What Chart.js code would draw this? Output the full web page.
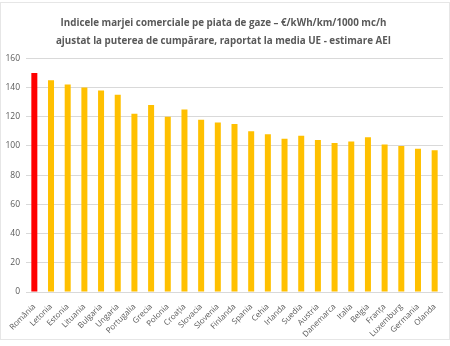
<!DOCTYPE html>
<html><head><meta charset="utf-8">
<script src="https://cdn.jsdelivr.net/npm/chart.js@4/dist/chart.umd.min.js"></script>
<style>html,body{margin:0;padding:0;background:#fff}#wrap{width:450px;height:346px;position:relative}</style>
</head><body><div id="wrap"><canvas id="c" width="450" height="346"></canvas></div>
<script>
const categories = ["România","Letonia","Estonia","Lituania","Bulgaria","Ungaria","Portugalia","Grecia","Polonia","Croația","Slovacia","Slovenia","Finlanda","Spania","Cehia","Irlanda","Suedia","Austria","Danemarca","Italia","Belgia","Franța","Luxemburg","Germania","Olanda"];
const values = [150,145,142,140,138,135,122,128,120,125,118,116,115,110,108,105,107,104,102,103,106,101,100,98,97];
const barColors = values.map((v,i)=> i===0 ? "#FF0000" : "#FFC000");
const titleLines = ["Indicele marjei comerciale pe piata de gaze – €/kWh/km/1000 mc/h","ajustat la puterea de cumpărare, raportat la media UE - estimare AEI"];

const borderPlugin = {id:'border', beforeDraw(chart){const c=chart.ctx;c.save();c.fillStyle='#fff';c.fillRect(0,0,450,346);c.strokeStyle='#e6e6e6';c.lineWidth=1;c.strokeRect(0.5,2.5,449,337);c.restore();}};

new Chart(document.getElementById('c'), {
  type:'bar',
  data:{labels:categories, datasets:[{data:values, backgroundColor:barColors, barPercentage:0.36, categoryPercentage:1.0}]},
  options:{
    responsive:false, animation:false,
    layout:{padding:{left:4,right:7,top:0,bottom:8}},
    plugins:{
      legend:{display:false}, tooltip:{enabled:false},
      title:{display:true, text:titleLines, color:'#595959', font:{family:'Open Sans', size:9.8, weight:'bold', lineHeight:1.75}, padding:{top:15,bottom:9}}
    },
    scales:{
      x:{grid:{display:false}, border:{display:false},
         ticks:{color:'#595959', font:{family:'Open Sans', size:8}, minRotation:45, maxRotation:45, autoSkip:false, padding:2},
         afterFit(s){s.height=46;}},
      y:{min:0,max:160, grid:{color:'#d9d9d9', drawTicks:false}, border:{display:false},
         ticks:{stepSize:20, color:'#595959', font:{family:'Open Sans', size:8.5}, padding:6},
         afterFit(s){s.width=22;}}
    }
  },
  plugins:[borderPlugin]
});
</script></body></html>
